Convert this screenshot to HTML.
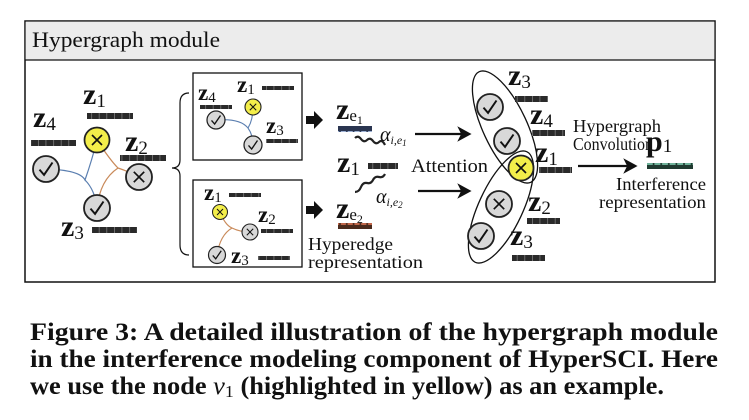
<!DOCTYPE html>
<html><head><meta charset="utf-8"><style>
body{margin:0;background:#fff;width:749px;height:420px;overflow:hidden}
svg{display:block}
.t{font-family:"Liberation Serif",serif;fill:#111}
.z{font-family:"Liberation Serif",serif;font-weight:bold;fill:#111}
.cap{font-family:"Liberation Serif",serif;font-weight:bold;font-size:25px;fill:#111}
</style></head><body>
<svg width="749" height="420" viewBox="0 0 749 420" xmlns="http://www.w3.org/2000/svg">
<defs>
<pattern id="pd" width="7.6" height="10" patternUnits="userSpaceOnUse"><rect width="7.6" height="10" fill="#888"/><rect x="0.7" width="6.9" height="10" fill="#2a2a2a"/></pattern>
<pattern id="pb" width="6.8" height="10" patternUnits="userSpaceOnUse"><rect width="6.8" height="10" fill="#2a3550"/><rect x="0.8" y="1" width="5.2" height="4" fill="#9fb3d6"/></pattern>
<pattern id="pr" width="6.8" height="10" patternUnits="userSpaceOnUse"><rect width="6.8" height="10" fill="#4a2a1c"/><rect x="0.8" y="1" width="5.2" height="4" fill="#c0674a"/></pattern>
<pattern id="pg" width="7.6" height="10" patternUnits="userSpaceOnUse"><rect width="7.6" height="10" fill="#1f3a30"/><rect x="0.8" y="1" width="6" height="4" fill="#6fb29a"/></pattern>
<g id="chk"><circle r="1" fill="#d8d8d8" stroke="#222" stroke-width="0.14"/><path d="M-0.5,0.05 L-0.15,0.45 L0.5,-0.5" fill="none" stroke="#111" stroke-width="0.15"/></g>
<g id="xx"><circle r="1" fill="#d8d8d8" stroke="#222" stroke-width="0.14"/><path d="M-0.4,-0.4 L0.4,0.4 M0.4,-0.4 L-0.4,0.4" stroke="#111" stroke-width="0.13"/></g>
<g id="yx"><circle r="1" fill="#f3ee4a" stroke="#222" stroke-width="0.14"/><path d="M-0.4,-0.4 L0.4,0.4 M0.4,-0.4 L-0.4,0.4" stroke="#111" stroke-width="0.13"/></g>
</defs>
<rect x="25" y="21" width="690" height="261" fill="#fff" stroke="#111" stroke-width="1.5"/>
<rect x="25.7" y="21.7" width="688.6" height="38" fill="#ececec"/>
<line x1="25" y1="60" x2="715" y2="60" stroke="#111" stroke-width="1.2"/>
<text class="t" x="32" y="47" font-size="22" textLength="188" lengthAdjust="spacingAndGlyphs">Hypergraph module</text>

<path d="M46,169 Q80,170 85,180 Q92,160 97,140" fill="none" stroke="#5b7fb0" stroke-width="1.2"/>
<path d="M85,180 Q95,190 97,208" fill="none" stroke="#5b7fb0" stroke-width="1.2"/>
<path d="M97,140 Q110,160 118,168 Q130,172 139,177" fill="none" stroke="#c98a5a" stroke-width="1.2"/>
<path d="M118,168 Q100,180 97,208" fill="none" stroke="#c98a5a" stroke-width="1.2"/>
<use href="#yx" transform="translate(97,140) scale(12.5)"/>
<use href="#chk" transform="translate(46,169) scale(13)"/>
<use href="#xx" transform="translate(139,177) scale(13)"/>
<use href="#chk" transform="translate(97,208) scale(13)"/>
<text class="z" x="83" y="104" font-size="30">z<tspan font-size="19" font-weight="normal" dy="3">1</tspan></text>
<rect x="87" y="113" width="46" height="6" fill="url(#pd)"/>
<text class="z" x="33" y="127" font-size="30">z<tspan font-size="19" font-weight="normal" dy="3">4</tspan></text>
<rect x="31" y="140" width="45" height="6" fill="url(#pd)"/>
<text class="z" x="125" y="151" font-size="30">z<tspan font-size="19" font-weight="normal" dy="3">2</tspan></text>
<rect x="120" y="155" width="46" height="6" fill="url(#pd)"/>
<text class="z" x="61" y="236" font-size="30">z<tspan font-size="19" font-weight="normal" dy="3">3</tspan></text>
<rect x="92" y="227" width="45" height="6" fill="url(#pd)"/>
<path d="M189,93 Q180,93 180,103 L180,160 Q180,168 172,168 Q180,168 180,176 L180,245 Q180,255 189,255" fill="none" stroke="#111" stroke-width="1.2"/>

<rect x="193" y="73" width="109" height="87" fill="#fff" stroke="#111" stroke-width="1.3"/>
<path d="M216,120 Q240,118 248,128 Q253,120 253,107 M248,128 Q253,135 253,145" fill="none" stroke="#5b7fb0" stroke-width="1.1"/>
<use href="#chk" transform="translate(216,120) scale(9)"/>
<use href="#yx" transform="translate(253,107) scale(8)"/>
<use href="#chk" transform="translate(253,145) scale(9)"/>
<text class="z" x="198" y="100" font-size="23">z<tspan font-size="15" font-weight="normal" dy="2">4</tspan></text>
<rect x="200" y="105" width="32" height="4" fill="url(#pd)"/>
<text class="z" x="237" y="92" font-size="23">z<tspan font-size="15" font-weight="normal" dy="2">1</tspan></text>
<rect x="262" y="86" width="32" height="4" fill="url(#pd)"/>
<text class="z" x="266" y="133" font-size="23">z<tspan font-size="15" font-weight="normal" dy="2">3</tspan></text>
<rect x="266" y="139" width="32" height="4" fill="url(#pd)"/>

<rect x="193" y="180" width="109" height="87" fill="#fff" stroke="#111" stroke-width="1.3"/>
<path d="M220,212 Q225,225 232,228 Q240,232 250,232 M232,228 Q220,235 217,255" fill="none" stroke="#c98a5a" stroke-width="1.1"/>
<use href="#yx" transform="translate(220,212) scale(7.5)"/>
<use href="#xx" transform="translate(250,232) scale(8)"/>
<use href="#chk" transform="translate(217,255) scale(8.5)"/>
<text class="z" x="204" y="200" font-size="23">z<tspan font-size="15" font-weight="normal" dy="2">1</tspan></text>
<rect x="229" y="193" width="32" height="4" fill="url(#pd)"/>
<text class="z" x="258" y="222" font-size="23">z<tspan font-size="15" font-weight="normal" dy="2">2</tspan></text>
<rect x="261" y="229" width="32" height="4" fill="url(#pd)"/>
<text class="z" x="231" y="263" font-size="23">z<tspan font-size="15" font-weight="normal" dy="2">3</tspan></text>
<rect x="258" y="256" width="32" height="4" fill="url(#pd)"/>

<path d="M306,116 L314,116 L314,111 L323,120 L314,129 L314,124 L306,124 Z" fill="#111"/>
<path d="M306,206 L314,206 L314,201 L323,210 L314,219 L314,214 L306,214 Z" fill="#111"/>

<text class="z" x="336" y="119" font-size="30">z<tspan font-size="17" font-weight="normal" dy="2">e</tspan><tspan font-size="12" font-weight="normal" dy="3">1</tspan></text>
<rect x="338" y="126" width="34" height="6" fill="url(#pb)"/>
<path d="M355,138 q3,-3 6,1 t6,1 t6,1 t6,1 t6,3" fill="none" stroke="#222" stroke-width="2.2"/>
<text class="t" x="380" y="141" font-size="20" font-style="italic">α<tspan font-size="12" dy="3">i,e</tspan><tspan font-size="9" dy="2">1</tspan></text>
<text class="z" x="337" y="172" font-size="30">z<tspan font-size="19" font-weight="normal" dy="3">1</tspan></text>
<rect x="368" y="163" width="30" height="6" fill="url(#pd)"/>
<path d="M385,174 q-2,4 -6,3 t-6,3 t-6,3 t-6,4 t-6,5" fill="none" stroke="#222" stroke-width="2.2"/>
<text class="t" x="376" y="203" font-size="20" font-style="italic">α<tspan font-size="12" dy="3">i,e</tspan><tspan font-size="9" dy="2">2</tspan></text>
<text class="z" x="336" y="218" font-size="30">z<tspan font-size="17" font-weight="normal" dy="2">e</tspan><tspan font-size="12" font-weight="normal" dy="3">2</tspan></text>
<rect x="338" y="223" width="34" height="6" fill="url(#pr)"/>
<text class="t" x="308" y="250" font-size="18" textLength="85" lengthAdjust="spacingAndGlyphs">Hyperedge</text>
<text class="t" x="308" y="268" font-size="18" textLength="115" lengthAdjust="spacingAndGlyphs">representation</text>
<text class="t" x="411" y="172" font-size="19" textLength="77" lengthAdjust="spacingAndGlyphs">Attention</text>

<line x1="415" y1="134" x2="462" y2="134" stroke="#111" stroke-width="2.2"/>
<path d="M470,134 L459,128 L462,134 L459,140 Z" fill="#111" stroke="#111" stroke-width="1.5"/>
<line x1="418" y1="191" x2="462" y2="191" stroke="#111" stroke-width="2.2"/>
<path d="M470,191 L459,185 L462,191 L459,197 Z" fill="#111" stroke="#111" stroke-width="1.5"/>

<ellipse cx="505" cy="127" rx="22" ry="61" transform="rotate(-25 505 127)" fill="none" stroke="#111" stroke-width="1.3"/>
<ellipse cx="501" cy="207" rx="22" ry="61" transform="rotate(25 501 207)" fill="none" stroke="#111" stroke-width="1.3"/>
<use href="#chk" transform="translate(490,107) scale(13)"/>
<use href="#chk" transform="translate(507,141) scale(13)"/>
<use href="#yx" transform="translate(521,168) scale(12.5)"/>
<use href="#xx" transform="translate(499,204) scale(13)"/>
<use href="#chk" transform="translate(481,236) scale(13)"/>
<text class="z" x="508" y="85" font-size="30">z<tspan font-size="19" font-weight="normal" dy="3">3</tspan></text>
<rect x="515" y="96" width="33" height="6" fill="url(#pd)"/>
<text class="z" x="530" y="124" font-size="30">z<tspan font-size="19" font-weight="normal" dy="3">4</tspan></text>
<rect x="532" y="130" width="33" height="6" fill="url(#pd)"/>
<text class="z" x="535" y="162" font-size="30">z<tspan font-size="19" font-weight="normal" dy="3">1</tspan></text>
<rect x="539" y="167" width="33" height="6" fill="url(#pd)"/>
<text class="z" x="528" y="211" font-size="30">z<tspan font-size="19" font-weight="normal" dy="3">2</tspan></text>
<rect x="527" y="218" width="33" height="6" fill="url(#pd)"/>
<text class="z" x="510" y="245" font-size="30">z<tspan font-size="19" font-weight="normal" dy="3">3</tspan></text>
<rect x="512" y="255" width="33" height="6" fill="url(#pd)"/>

<text class="t" x="573" y="132" font-size="18" textLength="88" lengthAdjust="spacingAndGlyphs">Hypergraph</text>
<text class="t" x="573" y="150" font-size="18" textLength="80" lengthAdjust="spacingAndGlyphs">Convolution</text>
<line x1="578" y1="166" x2="628" y2="166" stroke="#111" stroke-width="2.2"/>
<path d="M636,166 L625,160 L628,166 L625,172 Z" fill="#111" stroke="#111" stroke-width="1.5"/>
<text class="z" x="646" y="151" font-size="30">p<tspan font-size="19" font-weight="normal" dy="1">1</tspan></text>
<rect x="647" y="163" width="46" height="6" fill="url(#pg)"/>
<text class="t" x="616" y="190" font-size="18" textLength="90" lengthAdjust="spacingAndGlyphs">Interference</text>
<text class="t" x="599" y="208" font-size="18" textLength="107" lengthAdjust="spacingAndGlyphs">representation</text>

<text class="cap" x="30" y="340" textLength="688" lengthAdjust="spacingAndGlyphs">Figure 3: A detailed illustration of the hypergraph module</text>
<text class="cap" x="30" y="367" textLength="688" lengthAdjust="spacingAndGlyphs">in the interference modeling component of HyperSCI. Here</text>
<text class="cap" x="30" y="394" textLength="634" lengthAdjust="spacingAndGlyphs">we use the node <tspan font-style="italic" font-weight="normal">v</tspan><tspan font-weight="normal" font-size="17" dy="3">1</tspan><tspan dy="-3"> (highlighted in yellow) as an example.</tspan></text>
</svg>
</body></html>
